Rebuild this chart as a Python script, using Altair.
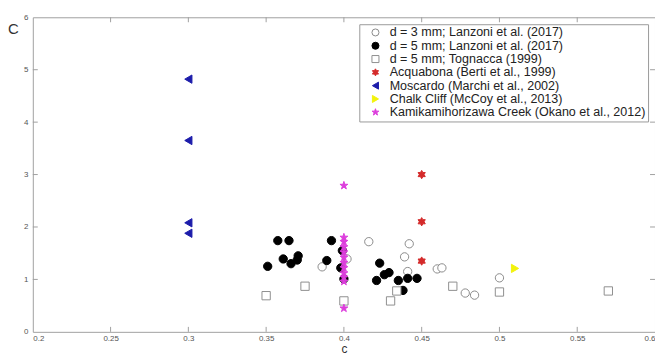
import altair as alt
import pandas as pd

# ---- data ----
series_names = [
    "d = 3 mm; Lanzoni et al. (2017)",
    "d = 5 mm; Lanzoni et al. (2017)",
    "d = 5 mm; Tognacca (1999)",
    "Acquabona (Berti et al., 1999)",
    "Moscardo (Marchi et al., 2002)",
    "Chalk Cliff (McCoy et al., 2013)",
    "Kamikamihorizawa Creek (Okano et al., 2012)",
]

open3_c = [0.386, 0.402, 0.416, 0.442, 0.439, 0.441, 0.460, 0.463, 0.478, 0.484, 0.500]
open3_C = [1.24, 1.39, 1.72, 1.68, 1.43, 1.15, 1.20, 1.22, 0.74, 0.70, 1.03]

fill5_c = [0.351, 0.3575, 0.3647, 0.361, 0.366, 0.370, 0.3706, 0.392, 0.389, 0.399, 0.398,
           0.400, 0.423, 0.426, 0.429, 0.421, 0.435, 0.441, 0.447, 0.438]
fill5_C = [1.25, 1.74, 1.74, 1.39, 1.30, 1.37, 1.45, 1.74, 1.36, 1.55, 1.22,
           1.01, 1.31, 1.09, 1.13, 0.98, 0.98, 1.02, 1.02, 0.79]

tog_c = [0.350, 0.375, 0.400, 0.430, 0.434, 0.470, 0.500, 0.570]
tog_C = [0.69, 0.87, 0.59, 0.59, 0.78, 0.87, 0.76, 0.78]

acq_c = [0.45, 0.45, 0.45]
acq_C = [3.00, 2.10, 1.35]

mos_c = [0.30, 0.30, 0.30, 0.30]
mos_C = [4.82, 3.65, 2.08, 1.88]

chalk_c = [0.51]
chalk_C = [1.21]

kami_c = [0.40] * 12
kami_C = [2.79, 1.80, 1.72, 1.62, 1.52, 1.42, 1.32, 1.22, 1.12, 1.04, 0.96, 0.45]

x_ticks = [0.25, 0.3, 0.35, 0.4, 0.45, 0.5, 0.55]
y_ticks = [1, 2, 3, 4, 5]

# ---- styling ----
HEXAGRAM = ("M0,-1L0.2887,-0.5L0.866,-0.5L0.5774,0L0.866,0.5L0.2887,0.5L0,1"
            "L-0.2887,0.5L-0.866,0.5L-0.5774,0L-0.866,-0.5L-0.2887,-0.5Z")
PENTAGRAM = ("M0,-1L0.2245,-0.309L0.9511,-0.309L0.3633,0.118L0.5878,0.809L0,0.382"
             "L-0.5878,0.809L-0.3633,0.118L-0.9511,-0.309L-0.2245,-0.309Z")
shapes = ["circle", "circle", "square", HEXAGRAM, "triangle-left", "triangle-right", PENTAGRAM]
fills = ["#ffffff", "#000000", "#ffffff", "#d42a2a", "#1c1caa", "#f2f20c", "#dc3ddc"]
strokes = ["#8a8a8a", "#000000", "#8f8f8f", "#d42a2a", "#1c1caa", "#f2f20c", "#dc3ddc"]

W, H = 627, 317
AX = "#a0a0a0"
FONT = "Liberation Sans"

rows = []
for name, xs, ys in zip(series_names,
                        [open3_c, fill5_c, tog_c, acq_c, mos_c, chalk_c, kami_c],
                        [open3_C, fill5_C, tog_C, acq_C, mos_C, chalk_C, kami_C]):
    for a, b in zip(xs, ys):
        rows.append({"c": a, "C": b, "series": name})
df = pd.DataFrame(rows)

xscale = alt.Scale(domain=[0.2, 0.6], nice=False, zero=False)
yscale = alt.Scale(domain=[0, 6], nice=False, zero=False)

legend = alt.Legend(
    title=None, orient="none", legendX=329, legendY=7,
    labelFont=FONT, labelFontSize=12.6, labelColor="#222222",
    strokeColor="#9a9a9a", fillColor="#ffffff", padding=2,
    symbolOffset=8, labelOffset=8, rowPadding=0.4, symbolStrokeWidth=1,
    symbolSize=50, labelLimit=400,
)

points = alt.Chart(df).mark_point(filled=False, opacity=1, strokeWidth=1, size=70).encode(
    x=alt.X("c:Q", scale=xscale,
            axis=alt.Axis(title="c", values=[0.2, 0.25, 0.3, 0.35, 0.4, 0.45, 0.5, 0.55, 0.6],
                          format="~g", grid=False, ticks=False, domain=False,
                          labelFont=FONT, labelFontSize=8, labelColor="#555555",
                          labelPadding=3, titleFont=FONT, titleFontSize=12,
                          titleFontWeight="normal", titleColor="#333333",
                          titleBaseline="bottom", titleY=24)),
    y=alt.Y("C:Q", scale=yscale,
            axis=alt.Axis(title="C", values=[0, 1, 2, 3, 4, 5, 6], grid=False,
                          ticks=False, domain=False,
                          labelFont=FONT, labelFontSize=8, labelColor="#555555",
                          labelPadding=5, titleFont=FONT, titleFontSize=15,
                          titleFontWeight="normal", titleColor="#333333",
                          titleAngle=0, titleAlign="center", titleBaseline="middle",
                          titleX=-20, titleY=11)),
    shape=alt.Shape("series:N", scale=alt.Scale(domain=series_names, range=shapes), legend=legend),
    fill=alt.Fill("series:N", scale=alt.Scale(domain=series_names, range=fills), legend=legend),
    stroke=alt.Stroke("series:N", scale=alt.Scale(domain=series_names, range=strokes), legend=legend),
    order=alt.Order("ord:Q"),
).transform_calculate(ord="indexof(" + str(series_names).replace("'", '"') + ", datum.series)")

xt = pd.DataFrame({"c": x_ticks})
yt = pd.DataFrame({"C": y_ticks})

tick_bottom = alt.Chart(xt).mark_rule(color=AX, strokeWidth=1).encode(
    x=alt.X("c:Q", scale=xscale), y=alt.value(H - 5), y2=alt.value(H))
tick_top = alt.Chart(xt).mark_rule(color=AX, strokeWidth=1).encode(
    x=alt.X("c:Q", scale=xscale), y=alt.value(0), y2=alt.value(5))
tick_left = alt.Chart(yt).mark_rule(color=AX, strokeWidth=1).encode(
    y=alt.Y("C:Q", scale=yscale), x=alt.value(0), x2=alt.value(5))
tick_right = alt.Chart(yt).mark_rule(color=AX, strokeWidth=1).encode(
    y=alt.Y("C:Q", scale=yscale), x=alt.value(W - 5), x2=alt.value(W))

chart = alt.layer(tick_bottom, tick_top, tick_left, tick_right, points).properties(
    width=W, height=H,
    autosize=alt.AutoSizeParams(type="none"),
    padding={"left": 25, "top": 8, "right": 0, "bottom": 24},
    background="#ffffff",
).configure_view(stroke=AX, strokeWidth=1)

chart.save("out.html", embed_options={"renderer": "svg", "actions": False})
